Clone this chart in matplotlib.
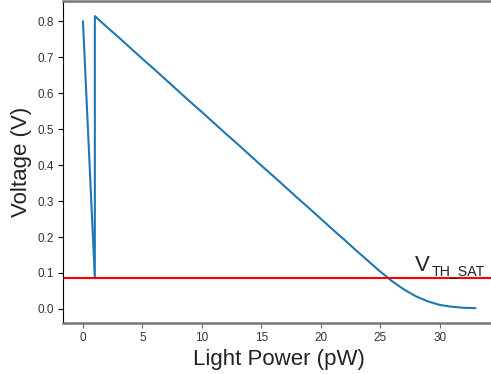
import matplotlib
matplotlib.use("Agg")
import matplotlib.pyplot as plt

plt.rcParams['font.family'] = ['Liberation Sans', 'DejaVu Sans']

# light power sweep (pW) and output voltage (V)
power = [0, 1, 1, 2, 3, 4, 5, 6, 7, 8, 9, 10, 11, 12, 13, 14, 15, 16, 17,
         18, 19, 20, 21, 22, 23, 24, 25, 26, 27, 28, 29, 30, 31, 32, 33]
voltage = [0.800, 0.085, 0.815, 0.785, 0.756, 0.726, 0.696, 0.667, 0.637,
           0.607, 0.577, 0.548, 0.518, 0.488, 0.459, 0.429, 0.399, 0.370,
           0.340, 0.310, 0.281, 0.251, 0.221, 0.192, 0.162, 0.133, 0.104,
           0.077, 0.054, 0.035, 0.021, 0.011, 0.006, 0.003, 0.002]
v_th_sat = 0.085

fig = plt.figure(figsize=(4.91, 3.74), dpi=100)
ax = fig.add_axes([0.129, 0.137, 0.879, 0.859])

ax.plot(power, voltage, color='#1f77b4', lw=1.5)
ax.axhline(v_th_sat, color='red', lw=1.5)

# threshold label: big "V" with a small subscript
ax.text(27.9, 0.105, 'V', fontsize=16, color='#222222')
ax.annotate('TH_SAT', xy=(27.9, 0.105), xytext=(12.5, -2.5),
            textcoords='offset points', fontsize=10.2, color='#222222')

ax.set_xlabel('Light Power (pW)', fontsize=16, color='#222222', labelpad=3)
ax.set_ylabel('Voltage (V)', fontsize=16, color='#222222', labelpad=4)
ax.set_xticks([0, 5, 10, 15, 20, 25, 30])
ax.set_yticks([0.0, 0.1, 0.2, 0.3, 0.4, 0.5, 0.6, 0.7, 0.8])
ax.tick_params(labelsize=8.5, labelcolor='#333333')
ax.tick_params(axis='x', color='#666666')

ax.spines['right'].set_visible(False)
ax.spines['top'].set_color('#777777')
ax.spines['top'].set_linewidth(1.8)
ax.spines['bottom'].set_color('#777777')
ax.spines['bottom'].set_linewidth(1.8)
ax.spines['left'].set_color('black')

fig.savefig('out.png', dpi=100)
